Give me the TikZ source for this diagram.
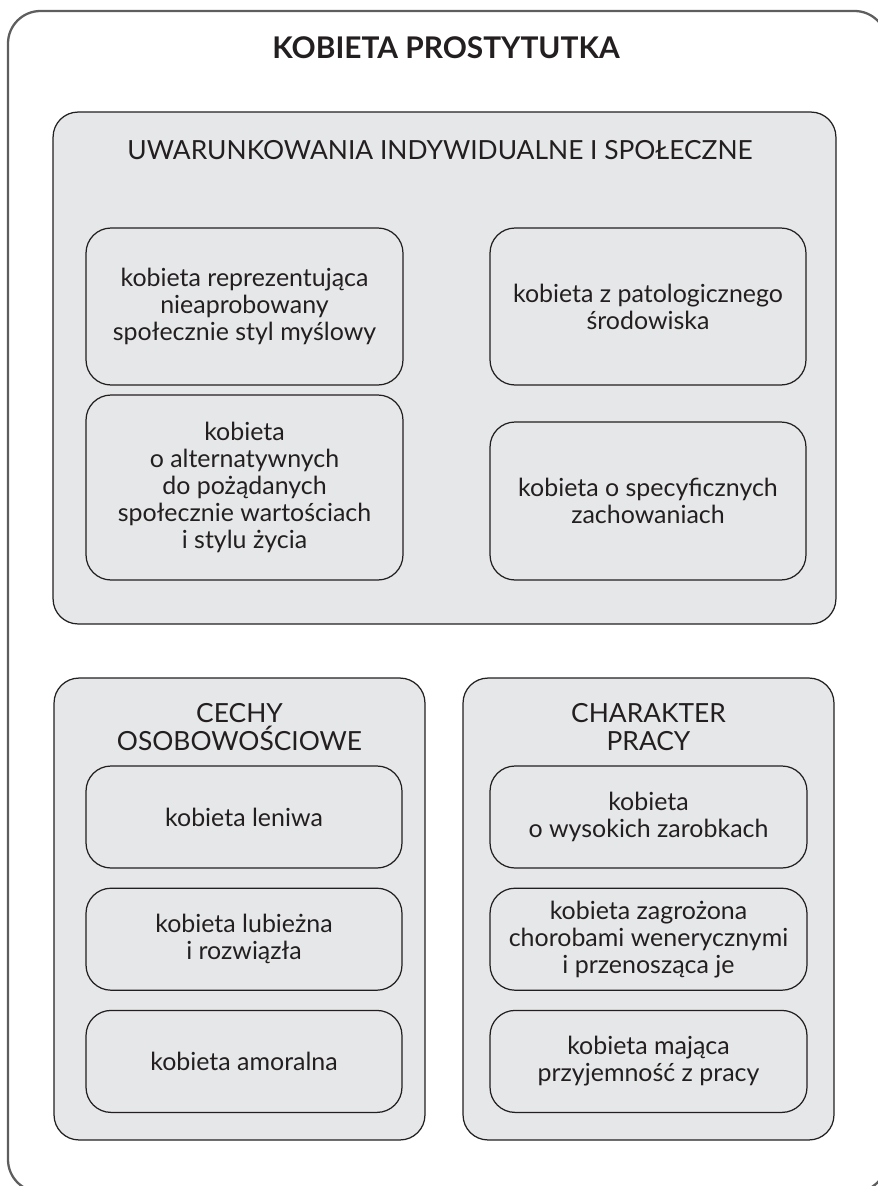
\documentclass[tikz,border=0pt]{standalone}
\usepackage{fontspec}
\setmainfont{Lato}
\usetikzlibrary{positioning}
\definecolor{boxgray}{HTML}{E6E7E8}
\definecolor{ink}{HTML}{231F20}
\definecolor{framegray}{HTML}{5E5E5E}

\begin{document}
\begin{tikzpicture}
[x=0.02cm, y=-0.02cm, node distance=3.8mm,
 frame/.style={draw=framegray, line width=1.3pt, rounded corners=0.65cm},
 group/.style={draw=ink, fill=boxgray, line width=0.7pt, rounded corners=0.5cm, inner sep=0pt},
 item/.style={group, align=center, text=ink, font=\fontsize{14.2}{15.3}\selectfont},
 heading/.style={align=center, text=ink, font=\fontsize{15}{16}\selectfont}]
\useasboundingbox (0,0) rectangle (878,1186);
\draw[frame] (8,11) rectangle (887,1192);
\node[heading, font=\fontsize{17}{18}\selectfont\bfseries] (title) at (446,48) {KOBIETA PROSTYTUTKA};
% uwarunkowania
\node[group, minimum width=15.66cm, minimum height=10.24cm] (uw) at (444.5,368) {};
\node[heading] (uwhead) at (440,150) {UWARUNKOWANIA INDYWIDUALNE I SPOŁECZNE};
\node[item, minimum width=6.34cm, minimum height=3.14cm] (styl) at (244.5,306.5)
  {kobieta reprezentująca\\nieaprobowany\\społecznie styl myślowy};
\node[item, minimum width=6.32cm, minimum height=3.14cm] (srod) at (648,306.5)
  {kobieta z patologicznego\\środowiska};
\node[item, minimum width=6.34cm, minimum height=3.7cm] (wart) at (244.5,487.5)
  {kobieta\\o alternatywnych\\do pożądanych\\społecznie wartościach\\i stylu życia};
\node[item, minimum width=6.32cm, minimum height=3.16cm] (zach) at (648,501)
  {kobieta o specyficznych\\zachowaniach};
% cechy osobowosciowe
\node[group, minimum width=7.42cm, minimum height=9.24cm] (cechy) at (239.5,909) {};
\node[heading] (cechyhead) at (239.5,727) {CECHY\\OSOBOWOŚCIOWE};
\node[item, minimum width=6.32cm, minimum height=2.04cm] (lenl) at (244,817) {kobieta leniwa};
\node[item, minimum width=6.32cm, minimum height=2.04cm, below=of lenl] (lub) {kobieta lubieżna\\i rozwiązła};
\node[item, minimum width=6.32cm, minimum height=2.04cm, below=of lub] (amor) {kobieta amoralna};
% charakter pracy
\node[group, minimum width=7.42cm, minimum height=9.24cm] (praca) at (648.5,909) {};
\node[heading] (pracahead) at (648.5,727) {CHARAKTER\\PRACY};
\node[item, minimum width=6.34cm, minimum height=2.04cm] (zarob) at (648.5,817) {kobieta\\o wysokich zarobkach};
\node[item, minimum width=6.34cm, minimum height=2.04cm, below=of zarob] (chor)
  {kobieta zagrożona\\chorobami wenerycznymi\\i przenosząca je};
\node[item, minimum width=6.34cm, minimum height=2.04cm, below=of chor] (przyj)
  {kobieta mająca\\przyjemność z pracy};
\end{tikzpicture}
\end{document}
